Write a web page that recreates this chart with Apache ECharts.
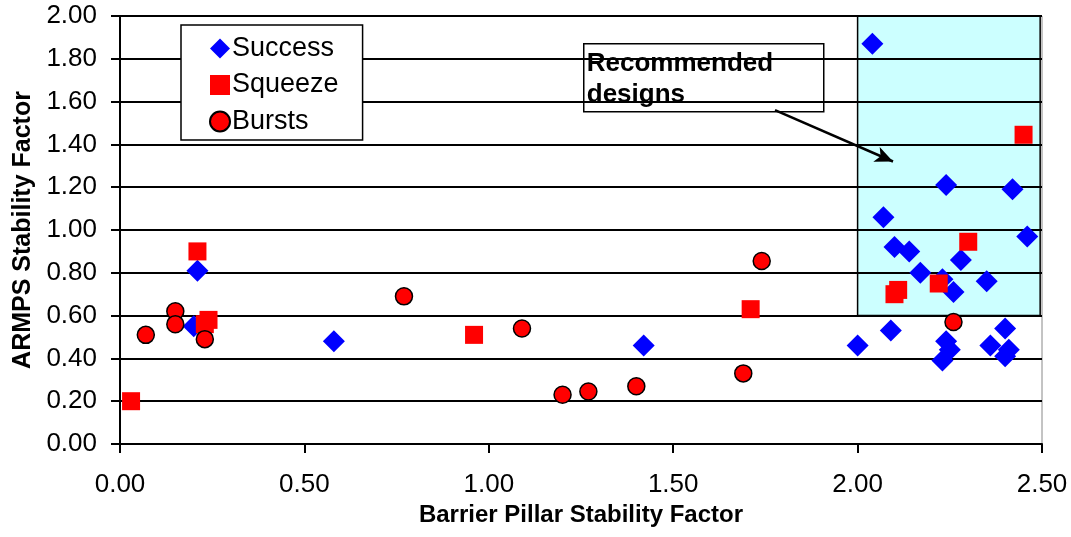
<!DOCTYPE html>
<html>
<head>
<meta charset="utf-8">
<script src="https://cdn.jsdelivr.net/npm/echarts@6/dist/echarts.min.js"></script>
<style>
html,body{margin:0;padding:0;background:#fff;}
#chart{width:1071px;height:537px;}
</style>
</head>
<body>
<div id="chart"></div>
<script>
// ---- data ----
const seriesNames = ['Success', 'Squeeze', 'Bursts'];
const success = [
  [0.21,0.81],[0.20,0.55],[0.58,0.48],[1.42,0.46],[2.04,1.87],[2.24,1.21],[2.42,1.19],
  [2.07,1.06],[2.46,0.97],[2.10,0.92],[2.14,0.90],[2.28,0.86],[2.17,0.80],[2.23,0.77],
  [2.26,0.71],[2.35,0.76],[2.09,0.53],[2.00,0.46],[2.40,0.54],[2.24,0.48],[2.25,0.44],
  [2.23,0.39],[2.36,0.46],[2.41,0.44],[2.40,0.41]
];
const squeeze = [
  [0.03,0.20],[0.21,0.90],[0.24,0.58],[0.23,0.56],[0.96,0.51],[1.71,0.63],[2.45,1.445],
  [2.30,0.945],[2.22,0.75],[2.11,0.72],[2.10,0.70]
];
const bursts = [
  [0.07,0.51],[0.15,0.62],[0.15,0.56],[0.23,0.49],[0.77,0.69],[1.09,0.54],[1.20,0.23],
  [1.27,0.245],[1.40,0.27],[1.69,0.33],[1.74,0.855],[2.26,0.57]
];
const xTicks = [0, 0.5, 1.0, 1.5, 2.0, 2.5];
const yTicks = [0, 0.2, 0.4, 0.6, 0.8, 1.0, 1.2, 1.4, 1.6, 1.8, 2.0];
const recommendedRegion = [[2.0, 0.6], [2.495, 2.0]];
const arrowFromTo = [[1.776, 1.56], [2.096, 1.32]];
const annotationText = 'Recommended\ndesigns';
const xTitle = 'Barrier Pillar Stability Factor';
const yTitle = 'ARMPS Stability Factor';

const FONT = "'Liberation Sans', Arial, sans-serif";
const chart = echarts.init(document.getElementById('chart'), null, {renderer: 'canvas'});

chart.setOption({
  animation: false,
  backgroundColor: '#ffffff',
  grid: {left: 120, right: 29, top: 16, bottom: 93, show: true, borderColor: '#888', borderWidth: 1, containLabel: false},
  xAxis: {
    type: 'value', min: xTicks[0], max: xTicks[xTicks.length-1], interval: 0.5, z: 1.5,
    name: xTitle, nameLocation: 'middle', nameGap: 59,
    nameTextStyle: {fontFamily: FONT, fontSize: 24, fontWeight: 'bold', color: '#000'},
    axisLine: {lineStyle: {color: '#000', width: 2}},
    axisTick: {show: true, inside: false, length: 9, lineStyle: {color: '#000', width: 2}},
    axisLabel: {margin: 28, fontFamily: FONT, fontSize: 26, color: '#000', formatter: v => v.toFixed(2)},
    splitLine: {show: false}
  },
  yAxis: {
    type: 'value', min: yTicks[0], max: yTicks[yTicks.length-1], interval: 0.2, z: 1.5,
    name: yTitle, nameLocation: 'middle', nameGap: 84, nameRotate: 90,
    nameTextStyle: {fontFamily: FONT, fontSize: 25, fontWeight: 'bold', color: '#000'},
    axisLine: {show: true, lineStyle: {color: '#000', width: 2}},
    axisTick: {show: true, inside: false, length: 9, lineStyle: {color: '#000', width: 2}},
    axisLabel: {margin: 23, fontFamily: FONT, fontSize: 26, color: '#000', formatter: v => v.toFixed(2)},
    splitLine: {show: true, lineStyle: {color: '#000', width: 2}}
  },
  legend: {
    orient: 'vertical', left: 181, top: 25,
    padding: [10, 24, 5, 28],
    itemWidth: 20, itemHeight: 20, itemGap: 9.5,
    backgroundColor: '#fff', borderColor: '#000', borderWidth: 1.5,
    textStyle: {fontFamily: FONT, fontSize: 27, color: '#000', padding: [0,0,0,-3]},
    data: [
      {name: seriesNames[0], icon: 'diamond'},
      {name: seriesNames[1], icon: 'rect'},
      {name: seriesNames[2], icon: 'circle'}
    ]
  },
  series: [
    {
      name: '_region', type: 'scatter', data: [], z: 1, silent: true,
      markArea: {
        silent: true,
        itemStyle: {color: '#CCFFFF', borderColor: '#000', borderWidth: 1.5},
        data: [[{coord: recommendedRegion[0]}, {coord: recommendedRegion[1]}]]
      }
    },
    {
      name: seriesNames[0], type: 'scatter', data: success, z: 2,
      symbol: 'diamond', symbolSize: 22,
      itemStyle: {color: '#0000FF', opacity: 1}
    },
    {
      name: seriesNames[1], type: 'scatter', data: squeeze, z: 2,
      symbol: 'rect', symbolSize: 18,
      itemStyle: {color: '#FF0000', opacity: 1}
    },
    {
      name: seriesNames[2], type: 'scatter', data: bursts, z: 2,
      symbol: 'circle', symbolSize: 17,
      itemStyle: {color: '#FF0000', borderColor: '#000', borderWidth: 1.5, opacity: 1},
      markLine: {
        silent: true, animation: false,
        symbol: ['none', 'arrow'], symbolSize: [12, 18],
        lineStyle: {color: '#000', width: 2.5, type: 'solid'},
        label: {show: false},
        data: [[{coord: arrowFromTo[0]}, {coord: arrowFromTo[1]}]]
      }
    }
  ],
  graphic: [
    {
      type: 'group', left: 583, top: 43, z: 100,
      children: [
        {type: 'rect', shape: {x: 0, y: 0, width: 240, height: 68},
         style: {fill: '#fff', stroke: '#000', lineWidth: 1.5}},
        {type: 'text', x: 3, y: 5,
         style: {text: annotationText, font: "bold 26px 'Liberation Sans', Arial, sans-serif",
                 fill: '#000', lineHeight: 31}}
      ]
    }
  ]
});
</script>
</body>
</html>
